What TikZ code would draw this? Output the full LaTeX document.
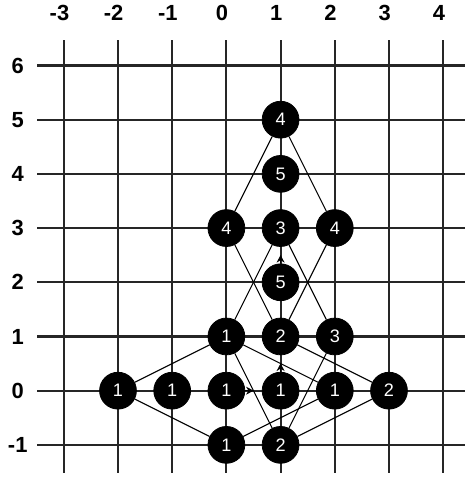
\documentclass[tikz,border=0pt]{standalone}
\usepackage{fontspec}
\setmainfont{Liberation Sans}
\usetikzlibrary{arrows.meta}
\begin{document}
\begin{tikzpicture}[x=1cm,y=1cm,
  gridline/.style={line width=1.1pt,color=black!85},
  axislabel/.style={font=\fontsize{11.5}{12}\selectfont\bfseries,inner sep=0pt},
  stone/.style={circle,fill=black,draw=black,minimum size=0.68cm,inner sep=0pt,text=white,font=\fontsize{9.5}{10}\selectfont},
  link/.style={line width=0.55pt,black},
  mover/.style={line width=0.55pt,black,-{Stealth[length=4pt,width=4.2pt]},shorten >=0.15cm}]
\useasboundingbox (-4.177,-1.648) rectangle (4.402,7.208);
% grid
\foreach \x in {-3,...,4} {
  \draw[gridline] (\x,6.47) -- (\x,-1.52);
  \node[axislabel] (cx\x) at (\x-0.08,6.97) {\x};
}
\foreach \y in {-1,...,6} {
  \draw[gridline] (-3.49,\y) -- (4.402,\y);
  \node[axislabel] (ry\y) at (-3.85,\y) {\y};
}
% stones
\node[stone] (a15) at (1,5) {4};
\node[stone] (a14) at (1,4) {5};
\node[stone] (a03) at (0,3) {4};
\node[stone] (a13) at (1,3) {3};
\node[stone] (a23) at (2,3) {4};
\node[stone] (a12) at (1,2) {5};
\node[stone] (a01) at (0,1) {1};
\node[stone] (a11) at (1,1) {2};
\node[stone] (a21) at (2,1) {3};
\node[stone] (am20) at (-2,0) {1};
\node[stone] (am10) at (-1,0) {1};
\node[stone] (a00) at (0,0) {1};
\node[stone] (a10) at (1,0) {1};
\node[stone] (a20) at (2,0) {1};
\node[stone] (a30) at (3,0) {2};
\node[stone] (a0m1) at (0,-1) {1};
\node[stone] (a1m1) at (1,-1) {2};
% links
\draw[link] (a15) -- (a03);
\draw[link] (a15) -- (a23);
\draw[link] (a03) -- (a11);
\draw[link] (a23) -- (a11);
\draw[link] (a13) -- (a01);
\draw[link] (a13) -- (a21);
\draw[link] (a01) -- (am20);
\draw[link] (am20) -- (a0m1);
\draw[link] (a01) -- (a20);
\draw[link] (a01) -- (a1m1);
\draw[link] (a11) -- (a30);
\draw[link] (a21) -- (a1m1);
\draw[link] (a0m1) -- (a20);
\draw[link] (a1m1) -- (a30);
% arrows
\draw[mover] (a12) -- (a13);
\draw[mover] (a10) -- (a11);
\draw[mover] (a00) -- (a10);
\end{tikzpicture}
\end{document}
